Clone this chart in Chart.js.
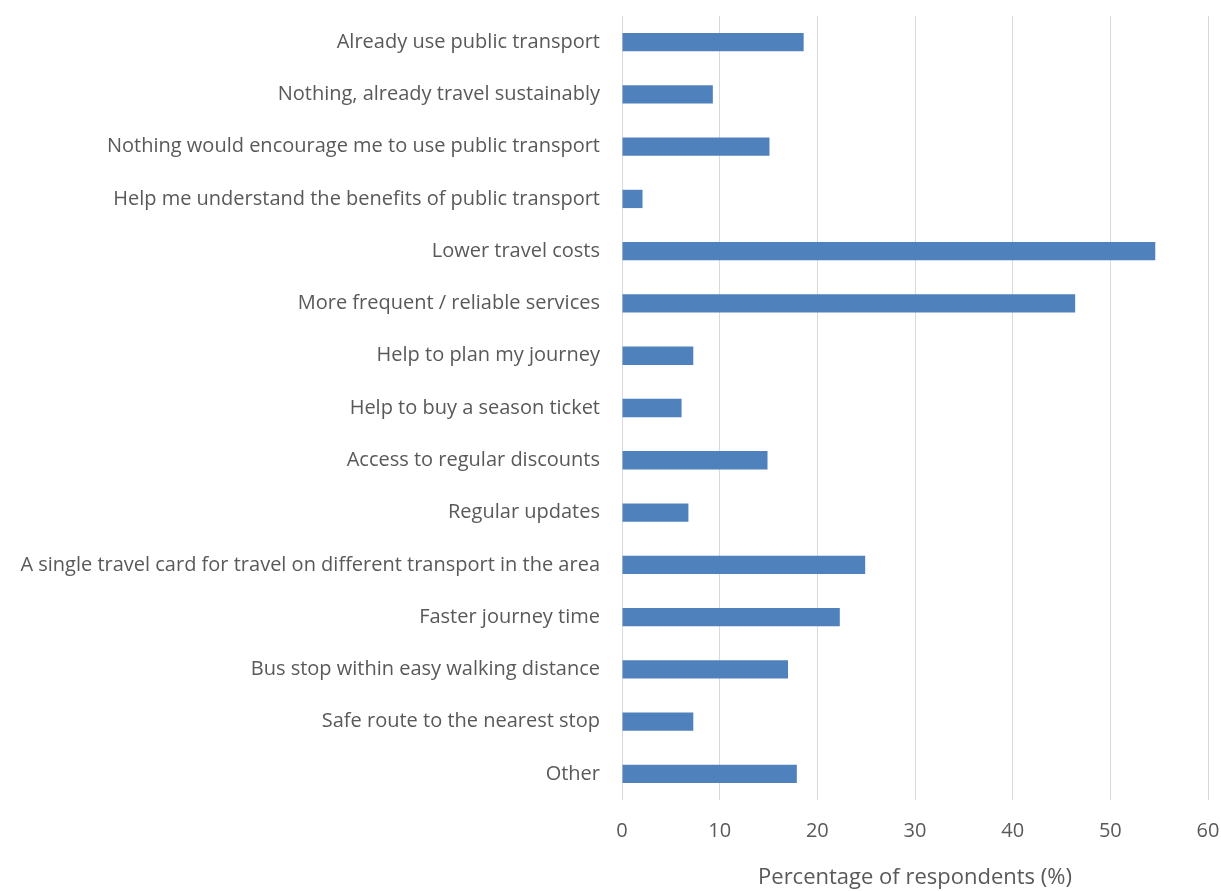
<!DOCTYPE html>
<html>
<head>
<meta charset="utf-8">
<script src="https://cdn.jsdelivr.net/npm/chart.js@4"></script>
<style>
  html, body { margin: 0; padding: 0; background: #fff; }
</style>
</head>
<body>
<canvas id="grafMotivos" width="1221" height="891"></canvas>
<script>
// respostas da pesquisa (ordem de cima para baixo)
const categorias = [
  "Already use public transport",
  "Nothing, already travel sustainably",
  "Nothing would encourage me to use public transport",
  "Help me understand the benefits of public transport",
  "Lower travel costs",
  "More frequent / reliable services",
  "Help to plan my journey",
  "Help to buy a season ticket",
  "Access to regular discounts",
  "Regular updates",
  "A single travel card for travel on different transport in the area",
  "Faster journey time",
  "Bus stop within easy walking distance",
  "Safe route to the nearest stop",
  "Other"
];
const percentuais = [18.6, 9.3, 15.1, 2.1, 54.6, 46.4, 7.3, 6.1, 14.9, 6.8, 24.9, 22.3, 17.0, 7.3, 17.9];
const ticksX = [0, 10, 20, 30, 40, 50, 60];
const tituloX = "Percentage of respondents (%)";

const FONTE = "'Open Sans', Lato, sans-serif";
const CINZA = "#595959";

// sem margens automáticas dos rótulos, a área do gráfico fica fixa
function semMargem(s) {
  s.paddingTop = 0; s.paddingBottom = 0;
  s.paddingLeft = 0; s.paddingRight = 0;
}

new Chart(document.getElementById("grafMotivos"), {
  type: "bar",
  data: {
    labels: categorias,
    datasets: [{
      data: percentuais,
      backgroundColor: "#4F81BD",
      borderWidth: 0,
      barPercentage: 0.35,
      categoryPercentage: 1
    }]
  },
  options: {
    indexAxis: "y",
    responsive: false,
    animation: false,
    layout: { padding: { top: 16, right: 13, bottom: 0, left: 0 } },
    plugins: { legend: { display: false }, tooltip: { enabled: false } },
    scales: {
      x: {
        min: 0,
        max: 60,
        afterBuildTicks: s => { s.ticks = ticksX.map(v => ({ value: v })); },
        afterFit: s => { s.height = 91; semMargem(s); },
        grid: { color: "#D9D9D9", lineWidth: 1, drawTicks: false },
        border: { display: false },
        ticks: { color: CINZA, font: { family: FONTE, size: 20 }, padding: 19 },
        title: {
          display: true,
          text: tituloX,
          color: CINZA,
          font: { family: FONTE, size: 22 },
          padding: { top: 12, bottom: 0 }
        }
      },
      y: {
        afterFit: s => { s.width = 622; semMargem(s); },
        grid: { display: false },
        border: { display: false },
        ticks: { color: CINZA, font: { family: FONTE, size: 20 }, padding: 14, autoSkip: false }
      }
    }
  }
});
</script>
</body>
</html>
